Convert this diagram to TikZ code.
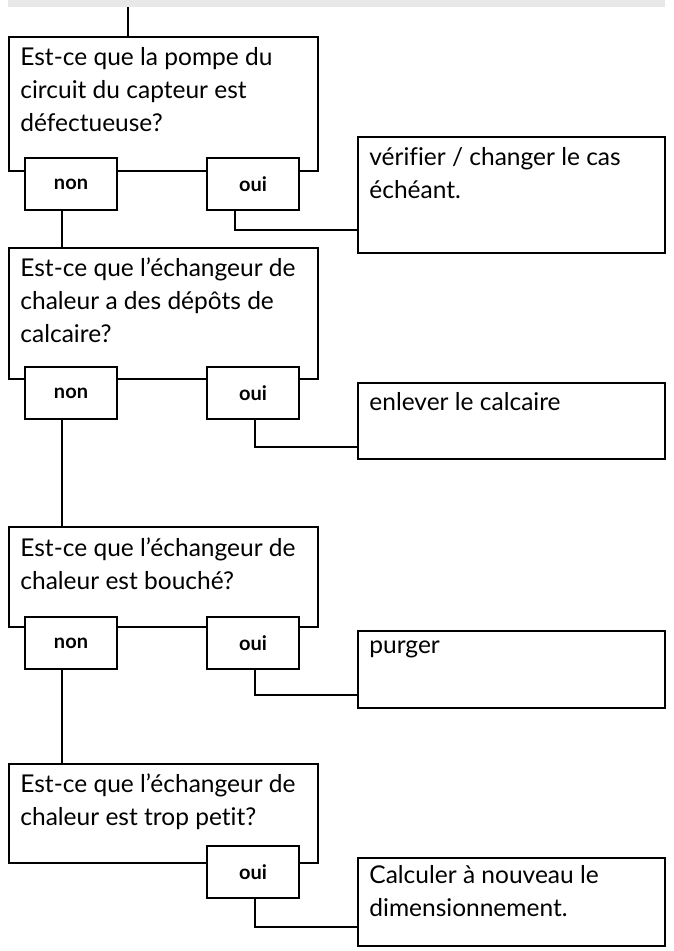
\documentclass[tikz,border=0pt]{standalone}
\usepackage{fontspec}
\setmainfont{Lato}[Ligatures={NoCommon,NoRare}]
\begin{document}
\begin{tikzpicture}[x=1pt,y=-1pt,line width=2.8pt,
  box/.style={draw,fill=white,anchor=north west,inner sep=0,outer sep=0},
  qtxt/.style={anchor=north west,align=left,inner sep=0,font=\fontsize{24.5}{33}\selectfont},
  tab/.style={box,minimum width=92,minimum height=52},
  tl/.style={font=\bfseries\fontsize{20}{22}\selectfont},
  conn/.style={draw}]
\useasboundingbox (0,0) rectangle (673,951);
\fill[gray!18] (8,0) rectangle (665,7);
% row 1
\coordinate (top) at (128,7);
\node[box,minimum width=309,minimum height=134] (q1) at (9,37) {};
\draw (top) -- (q1.north -| top);
\node[qtxt] (t1) at (19,46) {Est-ce que la pompe du\\circuit du capteur est\\défectueuse?};
\node[tab] (n1) at (25,158) {};
\node[tl] (nl1) at (n1.center) {non};
\node[tab] (o1) at (207,158) {};
\node[tl] (ol1) at (o1.center) {oui};
\node[box,minimum width=307,minimum height=116] (a1) at (358,137) {};
\node[qtxt] (at1) at (368,146) {vérifier / changer le cas\\échéant.};
\coordinate (c1) at (235,230);
\draw (o1.south -| c1) -- (c1) -- (a1.west |- c1);
% row 2
\node[box,minimum width=309,minimum height=131] (q2) at (9,248) {};
\draw (n1.south -| 62,0) -- (q2.north -| 62,0);
\node[qtxt] (t2) at (19,256) {Est-ce que l’échangeur de\\chaleur a des dépôts de\\calcaire?};
\node[tab] (n2) at (25,367) {};
\node[tl] (nl2) at (n2.center) {non};
\node[tab] (o2) at (207,367) {};
\node[tl] (ol2) at (o2.center) {oui};
\node[box,minimum width=307,minimum height=76] (a2) at (358,383) {};
\node[qtxt] (at2) at (368,391) {enlever le calcaire};
\coordinate (c2) at (255,447);
\draw (o2.south -| c2) -- (c2) -- (a2.west |- c2);
% row 3
\node[box,minimum width=309,minimum height=100] (q3) at (9,527) {};
\draw (n2.south -| 62,0) -- (q3.north -| 62,0);
\node[qtxt] (t3) at (19,536) {Est-ce que l’échangeur de\\chaleur est bouché?};
\node[tab] (n3) at (25,617) {};
\node[tl] (nl3) at (n3.center) {non};
\node[tab] (o3) at (207,617) {};
\node[tl] (ol3) at (o3.center) {oui};
\node[box,minimum width=307,minimum height=77] (a3) at (358,631) {};
\node[qtxt] (at3) at (368,639) {purger};
\coordinate (c3) at (255,695);
\draw (o3.south -| c3) -- (c3) -- (a3.west |- c3);
% row 4
\node[box,minimum width=309,minimum height=99] (q4) at (9,764) {};
\draw (n3.south -| 62,0) -- (q4.north -| 62,0);
\node[qtxt] (t4) at (19,772) {Est-ce que l’échangeur de\\chaleur est trop petit?};
\node[tab] (o4) at (207,846) {};
\node[tl] (ol4) at (o4.center) {oui};
\node[box,minimum width=307,minimum height=88] (a4) at (358,858) {};
\node[qtxt] (at4) at (368,864) {Calculer à nouveau le\\dimensionnement.};
\coordinate (c4) at (255,927);
\draw (o4.south -| c4) -- (c4) -- (a4.west |- c4);
\end{tikzpicture}
\end{document}
